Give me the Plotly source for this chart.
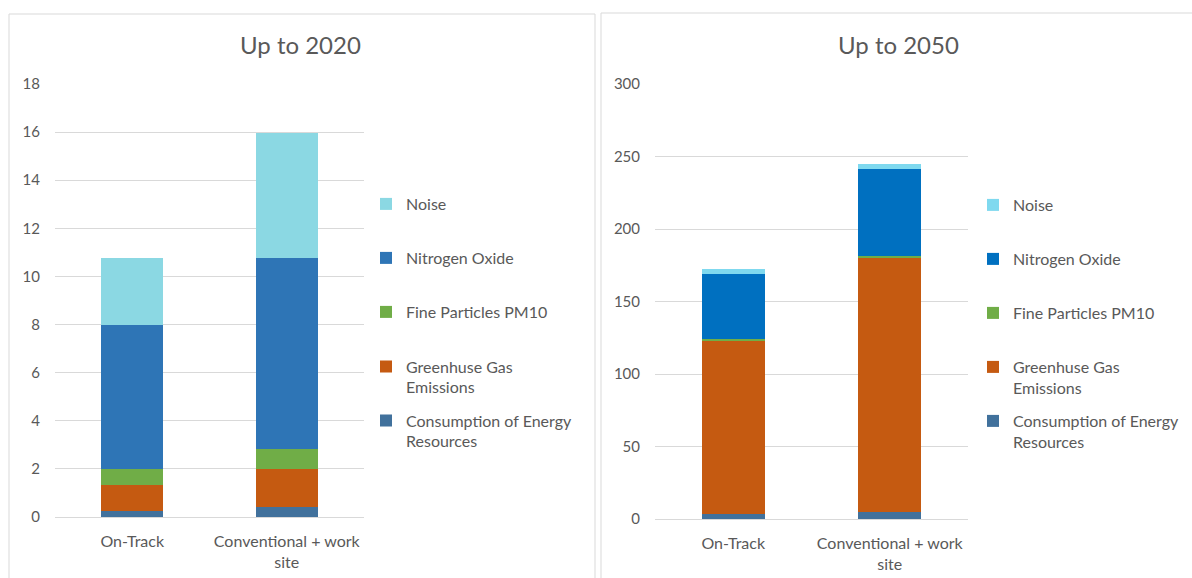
import plotly.graph_objects as go

categories = ["On-Track", "Conventional + work site"]
tick_labels = ["On-Track", "Conventional + work<br>site"]
series_names = ["Consumption of Energy<br>Resources", "Greenhuse Gas<br>Emissions",
                "Fine Particles PM10", "Nitrogen Oxide", "Noise"]

# Up to 2020
energy_2020 = [0.25, 0.4]
ghg_2020 = [1.1, 1.6]
pm10_2020 = [0.63, 0.82]
nox_2020 = [6.02, 7.96]
noise_2020 = [2.77, 5.2]

# Up to 2050
energy_2050 = [3.2, 5.0]
ghg_2050 = [120.0, 175.0]
pm10_2050 = [0.9, 1.6]
nox_2050 = [45.0, 60.0]
noise_2050 = [3.0, 3.5]

colors_2020 = ["#41719C", "#C55A11", "#70AD47", "#2E75B6", "#8BD8E3"]
colors_2050 = ["#41719C", "#C55A11", "#70AD47", "#0070C0", "#7FD9EF"]

W, H = 1192, 578
FONT = "Lato"
GREY = "#595959"
GRID = "#D9D9D9"

def px_x(p):
    return p / W

def px_y(p):
    return 1 - p / H

fig = go.Figure()

data_2020 = [energy_2020, ghg_2020, pm10_2020, nox_2020, noise_2020]
data_2050 = [energy_2050, ghg_2050, pm10_2050, nox_2050, noise_2050]

# legend text centres (px)
leg_y_left = [431, 377, 312, 258, 204]
leg_y_right = [431.5, 377.5, 313, 259, 205]
leg_x_left = 366
leg_x_right = 973

legend_font = dict(family=FONT, size=16, color=GREY)
layout_legends = {}
n = 0
for i, (name, vals) in enumerate(zip(series_names, data_2020)):
    n += 1
    key = "legend" if n == 1 else f"legend{n}"
    fig.add_trace(go.Bar(x=categories, y=vals, name=name, marker=dict(color=colors_2020[i], line=dict(width=0)),
                         xaxis="x", yaxis="y", legend=key, showlegend=True))
    layout_legends[key] = dict(x=px_x(leg_x_left), y=px_y(leg_y_left[i]), xanchor="left", yanchor="middle",
                               valign="top", bgcolor="rgba(0,0,0,0)", font=legend_font)
for i, (name, vals) in enumerate(zip(series_names, data_2050)):
    n += 1
    key = f"legend{n}"
    fig.add_trace(go.Bar(x=categories, y=vals, name=name, marker=dict(color=colors_2050[i], line=dict(width=0)),
                         xaxis="x2", yaxis="y2", legend=key, showlegend=True))
    layout_legends[key] = dict(x=px_x(leg_x_right), y=px_y(leg_y_right[i]), xanchor="left", yanchor="middle",
                               valign="top", bgcolor="rgba(0,0,0,0)", font=legend_font)

axis_font = dict(family=FONT, size=15, color=GREY)
cat_font = dict(family=FONT, size=16, color=GREY)

fig.update_layout(
    width=W, height=H,
    margin=dict(l=0, r=0, t=0, b=0, autoexpand=False),
    paper_bgcolor="white", plot_bgcolor="white",
    barmode="stack", bargap=0.6,
    font=dict(family=FONT, color=GREY),
    xaxis=dict(domain=[px_x(55), px_x(364)], anchor="y", tickvals=categories, ticktext=tick_labels,
               tickfont=cat_font, showline=True, linecolor=GRID, linewidth=1, showgrid=False,
               ticks="", automargin=False, ticklabelstandoff=10),
    yaxis=dict(domain=[px_y(517), px_y(84)], anchor="x", range=[0, 18], dtick=2,
               tickfont=axis_font, gridcolor=GRID, gridwidth=1, zeroline=False, showline=False,
               ticklabelstandoff=14, automargin=False),
    xaxis2=dict(domain=[px_x(655), px_x(968)], anchor="y2", tickvals=categories, ticktext=tick_labels,
                tickfont=cat_font, showline=True, linecolor=GRID, linewidth=1, showgrid=False,
                ticks="", automargin=False, ticklabelstandoff=10),
    yaxis2=dict(domain=[px_y(519), px_y(84)], anchor="x2", range=[0, 300], dtick=50,
                tickfont=axis_font, gridcolor=GRID, gridwidth=1, zeroline=False, showline=False,
                ticklabelstandoff=14, automargin=False),
    **layout_legends,
)

# panel borders
fig.add_shape(type="rect", xref="paper", yref="paper", x0=px_x(9), x1=px_x(595), y0=-0.02, y1=px_y(14),
              line=dict(color=GRID, width=1), fillcolor="rgba(0,0,0,0)", layer="below")
fig.add_shape(type="rect", xref="paper", yref="paper", x0=px_x(601), x1=1.02, y0=-0.02, y1=px_y(13),
              line=dict(color=GRID, width=1), fillcolor="rgba(0,0,0,0)", layer="below")

# titles
fig.add_annotation(text="Up to 2020", xref="paper", yref="paper", x=px_x(300), y=px_y(44),
                   xanchor="center", yanchor="middle", showarrow=False,
                   font=dict(family=FONT, size=24, color=GREY))
fig.add_annotation(text="Up to 2050", xref="paper", yref="paper", x=px_x(898), y=px_y(44),
                   xanchor="center", yanchor="middle", showarrow=False,
                   font=dict(family=FONT, size=24, color=GREY))

fig.write_html("out.html", config={"displayModeBar": False},
               post_script="document.body.style.margin='0px';")
